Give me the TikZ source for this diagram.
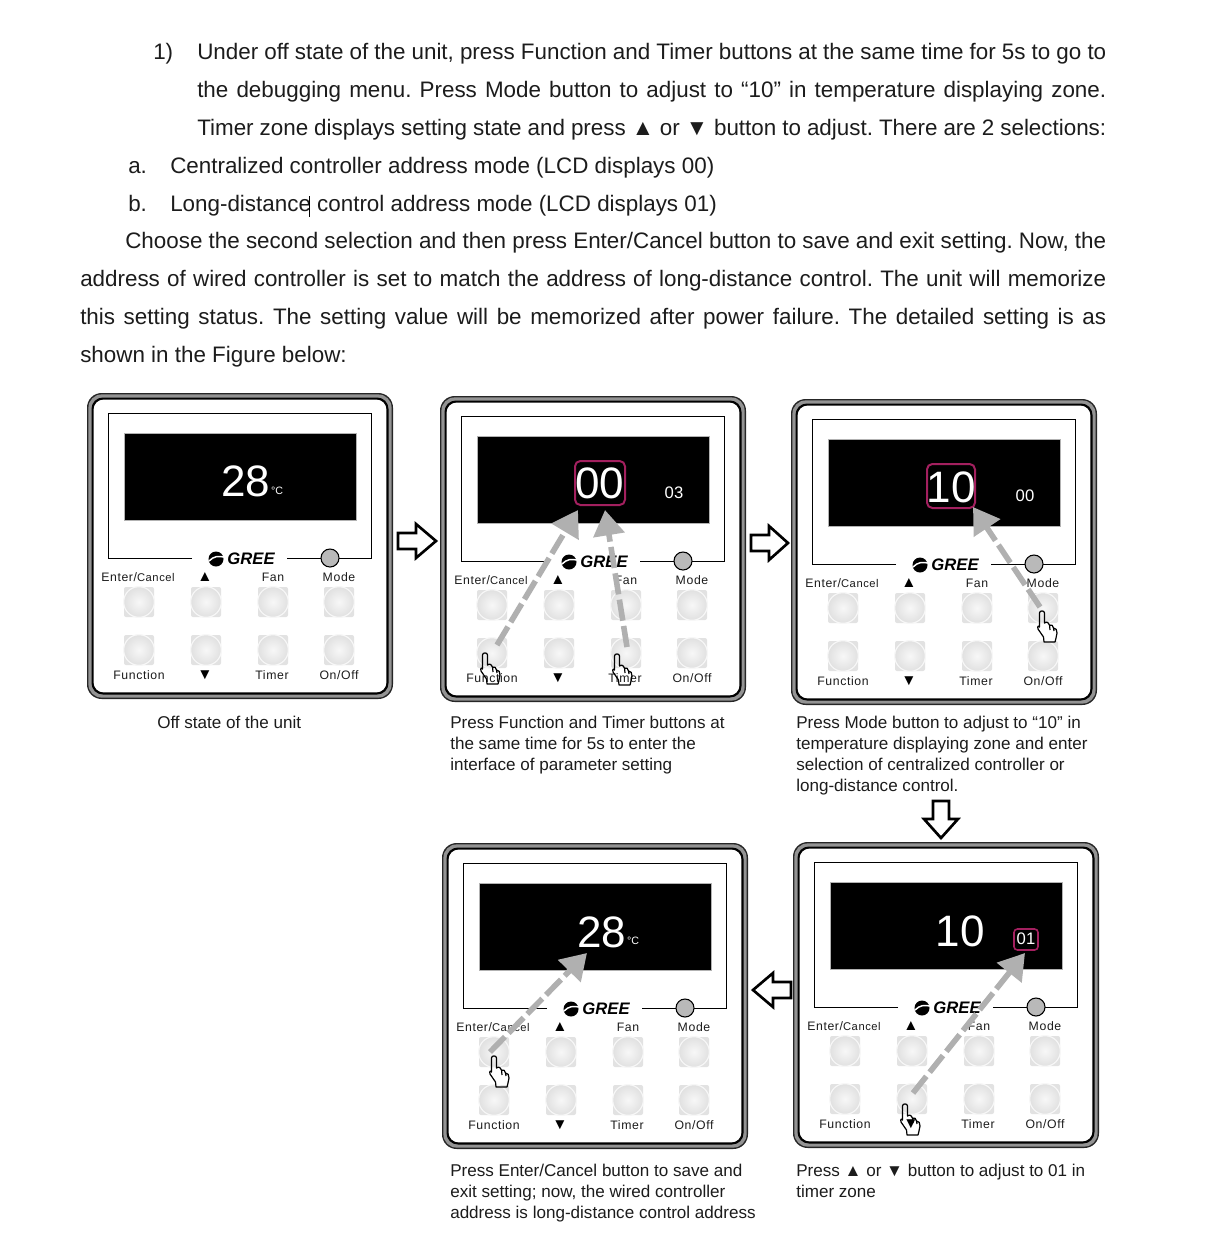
\documentclass[tikz,border=0pt]{standalone}
\usepackage{fontspec}
\setmainfont{Liberation Sans}
\newfontfamily\lblfont[LetterSpace=5]{Liberation Sans}
\newfontfamily\lcdfont{Liberation Sans}
\usetikzlibrary{arrows.meta}
\definecolor{ink}{HTML}{1C1C1C}
\definecolor{hilite}{HTML}{A3205F}
\definecolor{btn}{HTML}{E2E2E2}
\definecolor{arrowgray}{HTML}{B0B0B0}
\frenchspacing
\tikzset{
  x=0.75pt,y=-0.75pt,
  bodyline/.style={anchor=base west,inner sep=0pt,text=ink,font=\fontsize{16.8}{20}\selectfont},
  caption/.style={anchor=north west,inner sep=0pt,align=left,text=ink,font=\fontsize{12.8}{15.6}\selectfont},
  btnlabel/.style={inner sep=0pt,text=ink,font=\lblfont\fontsize{9.2}{11}\selectfont},
  btntri/.style={inner sep=0pt,text=black,font=\fontsize{11.5}{12}\selectfont},
  lcdbig/.style={inner sep=0pt,text=white,font=\lcdfont\fontsize{33}{33}\selectfont},
  lcdsmall/.style={inner sep=0pt,text=white,font=\lcdfont\fontsize{12.5}{13}\selectfont},
  lcdunit/.style={inner sep=0pt,text=white,font=\lcdfont\fontsize{8}{9}\selectfont},
  hilitebox/.style={draw=hilite,line width=1.5pt,rounded corners=4pt,inner sep=0pt},
  pressarrow/.style={draw=arrowgray,line width=4.2pt,dash pattern=on 16pt off 4pt,-{Triangle[length=19pt,width=23pt,fill=arrowgray]}},
  handshape/.style={draw=black,line width=0.9pt,line join=round},
  blockarrow/.style={draw=black,line width=2pt,fill=white,line join=miter},
}
\newlength{\jw}
\newcommand{\jline}[5]{\setlength{\jw}{#4pt}\setlength{\jw}{0.75\jw}\node[bodyline] (#1) at (#2,#3) {\makebox[\jw][s]{#5}};}
\newcommand{\pline}[4]{\node[bodyline] (#1) at (#2,#3) {#4};}
\newcommand{\panel}[3]{%
 \begin{scope}[shift={(#2,#3)}]
  \fill[black!85,rounded corners=11pt] (87,393) rectangle (393,699);
  \fill[gray!85,rounded corners=10pt] (88.4,394.4) rectangle (391.6,697.6);
  \fill[black,rounded corners=8.5pt] (91.5,397.5) rectangle (388.5,694.5);
  \fill[white,rounded corners=7.5pt] (93.6,399.6) rectangle (386.4,692.4);
  \draw[black,line width=0.7pt] (192,558) -- (108,558) -- (108,413) -- (371,413) -- (371,558) -- (287,558);
  \fill[black,draw=gray!60,line width=0.6pt] (124,433) rectangle (356,520);
  % logo
  \fill[black] (216,559) circle[radius=7.5];
  \draw[white,line width=1.1pt] (209,561) .. controls (214,556) and (218,556) .. (224,557);
  \node[inner sep=0pt,text=black,font=\fontsize{12.5}{14}\bfseries\itshape\selectfont] (#1logo) at (251,559) {GREE};
  % speaker
  \node[circle,draw=black,line width=0.8pt,fill=gray!55,minimum size=13.5pt,inner sep=0pt] (#1spk) at (330,558) {};
  % labels
  \node[btnlabel] (#1lenter) at (138,577.5) {Enter/{\fontsize{8.4}{10}\selectfont Cancel}};
  \node[btntri] (#1lup) at (205,577.5) {▲};
  \node[btnlabel] (#1lfan) at (273,577.5) {Fan};
  \node[btnlabel] (#1lmode) at (339,577.5) {Mode};
  \node[btnlabel] (#1lfunc) at (139,675) {Function};
  \node[btntri] (#1ldown) at (205,675) {▼};
  \node[btnlabel] (#1ltimer) at (272,675) {Timer};
  \node[btnlabel] (#1lonoff) at (339,675) {On/Off};
  % buttons
  \foreach \bx/\bn in {139/a,206/b,273/c,339/d}{
    \foreach \by/\br in {602/u,650/l}{
      \fill[btn,rounded corners=1.5pt] (\bx-15,\by-15) rectangle (\bx+15,\by+15);
      \node[circle,minimum size=23pt,inner sep=0pt,draw=white!97!black,line width=0.9pt,inner color=white!97!black,outer color=white!88!black] (#1\bn\br) at (\bx,\by) {};
    }
  }
 \end{scope}}
% open hand, (#2,#3) is the finger tip
\newcommand{\hand}[3]{%
 \draw[handshape,shift={(#2,#3)}] (-2.5,2) .. controls (-2.5,-0.8) and (2.5,-0.8) .. (2.5,2) -- (2.5,12)
   .. controls (5,10) and (7,12) .. (7.5,14) .. controls (10,13) and (11,15) .. (11.5,17)
   .. controls (14,17) and (15,19) .. (15,22) -- (14,27) -- (13,31) -- (2,31) -- (1.5,26)
   -- (-4,18) .. controls (-5,15) and (-3,14) .. (-2.5,16) -- cycle
   (7.5,14) -- (8,19) (11.5,17) -- (12,20);
 \coordinate (#1) at (#2,#3);}
\begin{document}
\begin{tikzpicture}
\useasboundingbox (0,0) rectangle (1204,1236);
\fill[white] (0,0) rectangle (1204,1236);

\pline{n1}{153}{59}{1)}
\jline{l1}{197}{59}{909}{Under off state of the unit, press Function and Timer buttons at the same time for 5s to go to}
\jline{l2}{197}{97}{909}{the debugging menu. Press Mode button to adjust to “10” in temperature displaying zone.}
\jline{l3}{197}{135}{909}{Timer zone displays setting state and press ▲ or ▼ button to adjust. There are 2 selections:}
\pline{na}{128}{173}{a.}
\pline{l4}{170}{173}{Centralized controller address mode (LCD displays 00)}
\pline{nb}{128}{211}{b.}
\pline{l5}{170}{211}{Long-distance control address mode (LCD displays 01)}
\draw[black,line width=0.6pt] (309,196) -- (309,217);
\jline{l6}{125}{248}{981}{Choose the second selection and then press Enter/Cancel button to save and exit setting. Now, the}
\jline{l7}{80}{286}{1026}{address of wired controller is set to match the address of long-distance control. The unit will memorize}
\jline{l8}{80}{324}{1026}{this setting status. The setting value will be memorized after power failure. The detailed setting is as}
\pline{l9}{80}{362}{shown in the Figure below:}

\panel{p1}{0}{0}
\panel{p2}{353}{3}
\panel{p3}{704}{6}
\panel{p4}{355}{450}
\panel{p5}{706}{449}

% LCD contents
\node[lcdbig] (d1) at (246,481) {28};
\node[lcdunit] (u1) at (277,491) {°C};
\node[lcdbig] (d2) at (600,483) {00};
\node[lcdsmall] (s2) at (674,493) {03};
\node[lcdbig] (d3) at (951,487) {10};
\node[lcdsmall] (s3) at (1025,496) {00};
\node[lcdbig] (d4) at (602,932) {28};
\node[lcdunit] (u4) at (633,941) {°C};
\node[lcdbig] (d5) at (960,931) {10};
\node[lcdsmall] (s5) at (1026,939) {01};

% highlight frames
\node[hilitebox,minimum width=37.5pt,minimum height=33pt] (h2) at (600,483) {};
\node[hilitebox,minimum width=36pt,minimum height=33pt] (h3) at (951,486) {};
\node[hilitebox,line width=1.2pt,rounded corners=2.5pt,minimum width=18pt,minimum height=15.7pt] (h5) at (1026,939.5) {};

% block arrows between panels
\draw[blockarrow] (398,533) -- (416,533) -- (416,524) -- (436,541) -- (416,558) -- (416,549) -- (398,549) -- cycle;
\draw[blockarrow] (751,535) -- (769,535) -- (769,526) -- (788,543) -- (769,560) -- (769,551) -- (751,551) -- cycle;
\draw[blockarrow] (933,801) -- (933,819) -- (924,819) -- (941,838) -- (958,819) -- (949,819) -- (949,801) -- cycle;
\draw[blockarrow] (791,982) -- (773,982) -- (773,973) -- (753,990) -- (773,1007) -- (773,998) -- (791,998) -- cycle;

% press arrows
\coordinate (t2a) at (578,510);
\coordinate (t2b) at (605,510);
\coordinate (t3) at (973,507);
\coordinate (t4) at (587,953);
\coordinate (t5) at (1025,953);
\coordinate (f2a) at (497,645);
\coordinate (f2b) at (627,647);
\coordinate (f3) at (1040,607);
\coordinate (f4) at (490,1052);
\coordinate (f5) at (913,1093);
\draw[pressarrow] (f2a) -- (t2a);
\draw[pressarrow] (f2b) -- (t2b);
\draw[pressarrow] (f3) -- (t3);
\draw[pressarrow] (f4) -- (t4);
\draw[pressarrow] (f5) -- (t5);

% hands
\hand{ha}{485}{653}
\hand{hb}{617}{654}
\hand{hc}{1042}{611}
\hand{hd}{494}{1056}
\hand{he}{905}{1104}

% captions
\node[caption] (c1) at (157,716) {Off state of the unit};
\node[caption] (c2) at (450,716) {Press Function and Timer buttons at\\the same time for 5s to enter the\\interface of parameter setting};
\node[caption] (c3) at (796,716) {Press Mode button to adjust to “10” in\\temperature displaying zone and enter\\selection of centralized controller or\\long-distance control.};
\node[caption] (c4) at (450,1164) {Press Enter/Cancel button to save and\\exit setting; now, the wired controller\\address is long-distance control address};
\node[caption] (c5) at (796,1164) {Press ▲ or ▼ button to adjust to 01 in\\timer zone};
\end{tikzpicture}
\end{document}
